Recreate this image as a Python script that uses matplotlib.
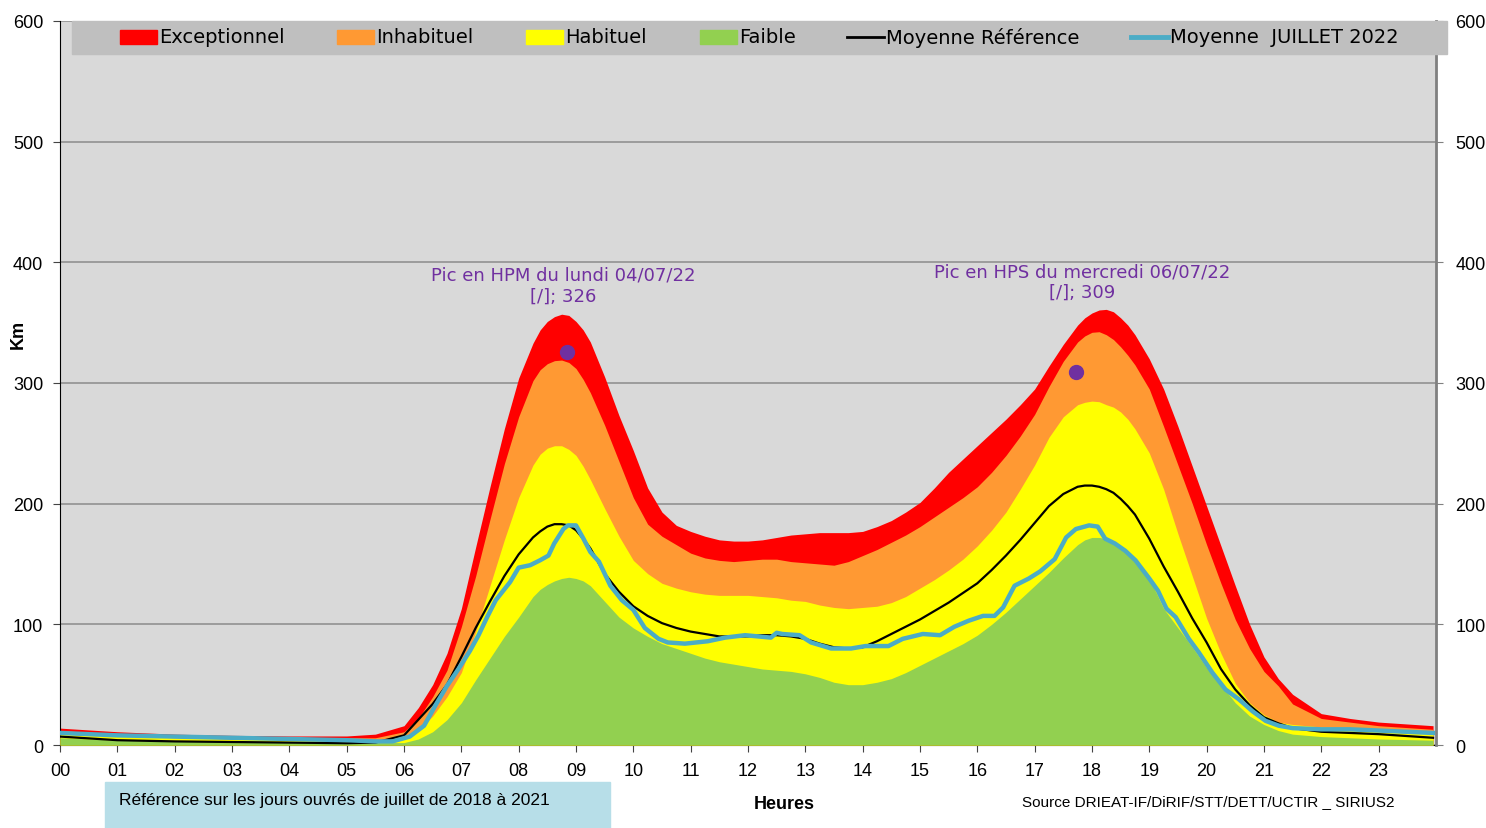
import matplotlib.pyplot as plt
from matplotlib.patches import Rectangle
from matplotlib.lines import Line2D

plt.rcParams['font.family'] = ['Liberation Sans', 'DejaVu Sans']

# heures (x) communes aux bandes de reference
heures = [0, 1, 2, 3, 4, 5, 5.5,
          6, 6.25, 6.5, 6.75, 7, 7.25, 7.5, 7.75, 8,
          8.25, 8.375, 8.5, 8.625, 8.75, 8.875, 9, 9.125, 9.25,
          9.5, 9.75, 10, 10.25, 10.5, 10.75, 11, 11.25, 11.5, 11.75, 12, 12.25, 12.5, 12.75,
          13, 13.25, 13.5, 13.75, 14, 14.25, 14.5, 14.75, 15, 15.25, 15.5, 15.75, 16, 16.25,
          16.5, 16.75, 17, 17.25, 17.5,
          17.75, 17.875, 18, 18.125, 18.25, 18.375, 18.5, 18.625, 18.75,
          19, 19.25, 19.5, 19.75, 20, 20.25, 20.5, 20.75, 21, 21.25, 21.5,
          22, 22.5, 23, 23.95]

exceptionnel = [14, 11, 9, 8, 7.5, 7.5, 9,
                16, 31, 50, 76, 113, 164, 214, 262, 304,
                333, 344, 351, 355, 357, 356, 351, 344, 334,
                305, 273, 244, 213, 193, 182, 177, 173, 170, 169, 169, 170, 172, 174,
                175, 176, 176, 176, 177, 181, 186, 193, 201, 213, 226, 237, 248, 259,
                270, 282, 295, 314, 332,
                348, 354, 358, 360.5, 361, 359, 354, 348, 340,
                320, 295, 264, 231, 198, 165, 132, 100, 73, 55, 42,
                26, 22, 19, 16]

inhabituel = [12, 9, 8, 6.5, 6, 6, 6,
              11, 22, 40, 62, 98, 140, 187, 233, 272,
              302, 311, 316, 318.5, 319, 317, 312, 303, 292,
              265, 235, 205, 183, 173, 166, 159, 155, 153, 152, 153, 154, 154, 152,
              151, 150, 149, 152, 157, 162, 168, 174, 181, 189, 197, 205, 214, 226,
              240, 256, 274, 297, 318,
              334, 339, 342, 342.5, 340, 336, 330, 323, 315,
              295, 264, 232, 200, 166, 134, 104, 80, 61, 49, 34,
              22, 19, 16, 13]

habituel = [10, 8, 6, 5, 5, 4, 4,
            6, 12, 24, 40, 60, 94, 132, 170, 205,
            232, 241, 246, 248, 248, 245, 240, 231, 220,
            196, 173, 153, 142, 134, 130, 127, 125, 124, 124, 124, 123, 122, 120,
            119, 116, 114, 113, 114, 115, 118, 123, 130, 137, 145, 154, 165, 178,
            193, 212, 232, 255, 272,
            282, 284, 285, 284.5, 282, 280, 276, 270, 262,
            242, 212, 175, 140, 105, 76, 51, 35, 25, 19, 17,
            15, 14, 12, 10]

faible = [6, 4, 3, 3, 2.5, 2, 2,
          2, 5, 11, 21, 35, 54, 72, 90, 106,
          123, 129, 133, 136, 138, 139, 138, 136, 132,
          119, 106, 97, 90, 84, 80, 76, 72, 69, 67, 65, 63, 62, 61,
          59, 56, 52, 50, 50, 52, 55, 60, 66, 72, 78, 84, 91, 100,
          110, 121, 132, 143, 155,
          166, 170, 172, 172, 171, 168, 164, 160, 155,
          138, 113, 97, 81, 64, 50, 35, 24, 17, 12, 9,
          7, 6, 5, 4]

moyenne_ref = [7, 4, 3, 2.5, 2, 1.5, 2,
               8, 21, 34, 50, 73, 97, 119, 140, 158,
               172, 177, 181, 183, 183, 182, 178, 171, 163,
               142, 127, 115, 107, 101, 97, 94, 92, 90, 90, 90, 91, 91, 90,
               88, 84, 81, 80, 81, 86, 92, 98, 104, 111, 118, 126, 134, 145,
               157, 170, 184, 198, 208,
               214, 215, 215, 214, 212, 209, 204, 198, 191,
               171, 148, 127, 105, 85, 63, 46, 33, 23, 18, 14,
               11, 10, 9, 6]

heures_2022 = [0, 1, 2, 3, 4, 5, 5.5, 5.8, 6.1, 6.35, 6.55, 6.75, 6.95, 7.15, 7.3, 7.45, 7.6, 7.85,
               8.0, 8.2, 8.37, 8.52, 8.62, 8.78, 8.86, 9.0, 9.13, 9.25, 9.4, 9.6, 9.8, 10.0, 10.2, 10.44,
               10.6, 10.9, 11.1, 11.3, 11.6, 11.95, 12.4, 12.5, 12.6, 12.9, 13.1, 13.45, 13.8, 14.05,
               14.45, 14.7, 15.05, 15.35, 15.6, 15.85, 16.1, 16.3, 16.45, 16.65, 16.9, 17.1, 17.35, 17.55,
               17.72, 17.95, 18.1, 18.23, 18.4, 18.58, 18.76, 19.0, 19.15, 19.3, 19.46, 19.69, 19.86, 20.1,
               20.33, 20.56, 20.8, 21.03, 21.26, 21.5, 22, 22.5, 23, 23.95]
moyenne_2022 = [10, 8, 7, 6, 5, 4, 3, 3, 7, 16, 33, 49, 63, 78, 91, 106, 120, 135,
                147, 149, 153, 157, 167, 179, 182, 182, 171, 160, 152, 132, 120, 112, 97, 88,
                85, 84, 85, 86, 89, 91, 89, 93, 92, 91, 85, 80, 80, 82,
                82, 88, 92, 91, 98, 103, 107, 107, 114, 132, 138, 144, 154, 172,
                179, 182, 181, 171, 167, 161, 153, 138, 128, 113, 106, 88, 77, 60,
                46, 38, 28, 20, 16, 14, 13, 13, 12, 10]

for serie in (exceptionnel, inhabituel, habituel, faible, moyenne_ref):
    assert len(serie) == len(heures)
assert len(moyenne_2022) == len(heures_2022)

pics_heure = [8.84, 17.73]
pics_valeur = [326, 309]
pics_texte = ["Pic en HPM du lundi 04/07/22\n[/]; 326",
              "Pic en HPS du mercredi 06/07/22\n[/]; 309"]
pics_texte_pos = [(8.77, 381), (17.82, 384)]

heures_ticks = list(range(24))
heures_labels = ["%02d" % h for h in heures_ticks]

rouge = '#FF0000'
orange = '#FF9933'
jaune = '#FFFF00'
vert = '#92D050'
bleu = '#4BACC6'
violet = '#7030A0'

fig = plt.figure(figsize=(14.86, 8.29), dpi=100)
ax = fig.add_axes([0.0404, 0.1001, 0.9259, 0.8734])
ax.set_facecolor('#D9D9D9')

ax.fill_between(heures, exceptionnel, color=rouge, lw=0, zorder=2)
ax.fill_between(heures, inhabituel, color=orange, lw=0, zorder=3)
ax.fill_between(heures, habituel, color=jaune, lw=0, zorder=4)
ax.fill_between(heures, faible, color=vert, lw=0, zorder=5)
ax.plot(heures, moyenne_ref, color='black', lw=1.6, zorder=6)
ax.plot(heures_2022, moyenne_2022, color=bleu, lw=3.2, zorder=7, solid_joinstyle='round')
ax.plot(pics_heure, pics_valeur, 'o', color=violet, ms=10, zorder=8)

for (tx, ty), t in zip(pics_texte_pos, pics_texte):
    ax.text(tx, ty, t, color=violet, ha='center', va='center', fontsize=13,
            family='DejaVu Sans', linespacing=1.2, zorder=9)

ax.set_xlim(0, 24)
ax.set_ylim(0, 600)
ax.set_xticks(heures_ticks)
ax.set_xticklabels(heures_labels)
ax.set_yticks(range(0, 601, 100))
ax.grid(axis='y', color='#8C8C8C', lw=1.1, zorder=1)
ax.set_axisbelow(True)
ax.tick_params(axis='both', labelsize=13, length=5, pad=7, color='#444444')
for s in ['top', 'right']:
    ax.spines[s].set_visible(False)
ax.spines['left'].set_color('black')
ax.spines['bottom'].set_color('black')

ax2 = ax.twinx()
ax2.set_ylim(0, 600)
ax2.set_yticks(range(0, 601, 100))
ax2.tick_params(axis='y', labelsize=13, length=5, pad=9, color='#808080')
for s in ['top', 'left', 'bottom']:
    ax2.spines[s].set_visible(False)
ax2.spines['right'].set_color('#808080')
ax2.spines['right'].set_linewidth(2)

fig.text(0.012, 0.596, 'Km', rotation=90, fontsize=13, fontweight='bold', ha='center', va='center')
fig.text(0.528, 0.029, 'Heures', fontsize=13, fontweight='bold', ha='center', va='center')
fig.text(0.6877, 0.033, 'Source DRIEAT-IF/DiRIF/STT/DETT/UCTIR _ SIRIUS2', fontsize=11,
         ha='left', va='center')

# encadre reference
fig.patches.append(Rectangle((0.0707, 0.0), 0.3398, 0.0555, transform=fig.transFigure,
                             color='#B7DEE8', zorder=0))
fig.text(0.0801, 0.0338, 'Référence sur les jours ouvrés de juillet de 2018 à 2021',
         fontsize=12.5, ha='left', va='center')

# legende
fig.patches.append(Rectangle((0.0485, 0.9337), 0.9253, 0.0398, transform=fig.transFigure,
                             color='#BFBFBF', zorder=5))
ly = 0.9542
items = [('patch', rouge, 120, 'Exceptionnel'),
         ('patch', orange, 337, 'Inhabituel'),
         ('patch', jaune, 526, 'Habituel'),
         ('patch', vert, 700, 'Faible'),
         ('line', 'black', 847, 'Moyenne Référence'),
         ('line', bleu, 1131, 'Moyenne  JUILLET 2022')]
W = 1486.0
for kind, col, px, lab in items:
    x0 = px / W
    w = 37 / W
    if kind == 'patch':
        fig.patches.append(Rectangle((x0, ly - 0.0085), w, 0.017, transform=fig.transFigure,
                                     color=col, zorder=6))
    else:
        fig.lines.append(Line2D([x0, x0 + w], [ly, ly], transform=fig.transFigure,
                                color=col, lw=2 if col == 'black' else 3.5, zorder=6))
    fig.text(x0 + w + 2 / W, ly, lab, fontsize=14, family='DejaVu Sans', ha='left', va='center', zorder=7)

fig.savefig('out.png', dpi=100)
